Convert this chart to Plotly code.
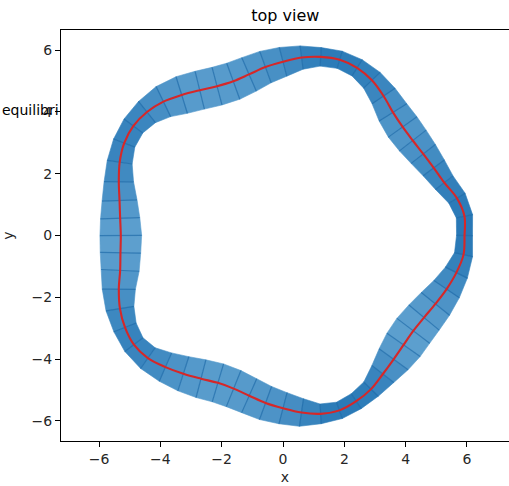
import numpy as np
import plotly.graph_objects as go

# Stations around the ring, every 6 degrees (polar angle of the centre line)
theta_deg = np.arange(0, 360, 6)

# Centre-line radius at each station
radius = [5.92, 5.95, 5.80, 5.53, 5.38, 5.28, 5.23, 5.25, 5.36, 5.58,
          5.80, 5.94, 5.98, 5.91, 5.79, 5.62, 5.48, 5.33, 5.25, 5.29,
          5.43, 5.62, 5.83, 5.97, 6.03, 5.98, 5.83, 5.63, 5.45, 5.34,
          5.29, 5.33, 5.43, 5.63, 5.82, 5.95, 6.01, 5.93, 5.73, 5.53,
          5.35, 5.22, 5.21, 5.30, 5.45, 5.59, 5.76, 5.90, 5.95, 5.87,
          5.74, 5.54, 5.39, 5.29, 5.25, 5.31, 5.44, 5.61, 5.78, 5.92]

# Projected half-width of the ribbon (seen from above) at each station
half_width = [0.26, 0.27, 0.31, 0.36, 0.43, 0.50, 0.55, 0.57, 0.53, 0.45,
              0.37, 0.31, 0.29, 0.30, 0.38, 0.48, 0.54, 0.59, 0.62, 0.63,
              0.63, 0.62, 0.54, 0.44, 0.38, 0.37, 0.41, 0.48, 0.57, 0.64,
              0.68, 0.66, 0.62, 0.54, 0.46, 0.39, 0.37, 0.41, 0.50, 0.58,
              0.63, 0.64, 0.63, 0.60, 0.57, 0.52, 0.45, 0.32, 0.28, 0.29,
              0.33, 0.45, 0.58, 0.66, 0.67, 0.64, 0.59, 0.50, 0.40, 0.30]

x_ticks = [-6, -4, -2, 0, 2, 4, 6]
y_ticks = [-6, -4, -2, 0, 2, 4, 6]

# ---- geometry: centre line, outward normals, ribbon edges ----
th = np.deg2rad(theta_deg)
r = np.asarray(radius)
w = np.asarray(half_width)
cx, cy = r * np.cos(th), r * np.sin(th)

tx = np.roll(cx, -1) - np.roll(cx, 1)
ty = np.roll(cy, -1) - np.roll(cy, 1)
tl = np.hypot(tx, ty)
nx, ny = ty / tl, -tx / tl  # outward for a counter-clockwise loop

ox, oy = cx + w * nx, cy + w * ny
ix, iy = cx - w * nx, cy - w * ny

fig = go.Figure()

# ribbon facets, shaded darker where the strip is seen nearly edge-on
light = np.array([94, 160, 207])
dark = np.array([40, 120, 182])
wmin, wmax = w.min(), w.max()
n = len(cx)
for k in range(n):
    j = (k + 1) % n
    wa = 0.5 * (w[k] + w[j])
    t = (wa - wmin) / (wmax - wmin)
    c = dark + t * (light - dark)
    col = f"rgb({c[0]:.0f},{c[1]:.0f},{c[2]:.0f})"
    fig.add_trace(go.Scatter(
        x=[ox[k], ox[j], ix[j], ix[k], ox[k]],
        y=[oy[k], oy[j], iy[j], iy[k], oy[k]],
        mode="lines", fill="toself", fillcolor=col,
        line=dict(color=col, width=0.6),
        hoverinfo="skip", showlegend=False))

# cross lines of the mesh
lx, ly = [], []
for k in range(n):
    lx += [ix[k], ox[k], None]
    ly += [iy[k], oy[k], None]
fig.add_trace(go.Scatter(x=lx, y=ly, mode="lines",
                         line=dict(color="rgba(28,105,168,0.7)", width=1.2),
                         hoverinfo="skip", showlegend=False))

# centre line
fig.add_trace(go.Scatter(x=np.append(cx, cx[0]), y=np.append(cy, cy[0]),
                         mode="lines", line=dict(color="#d62728", width=2.1, shape="spline"),
                         showlegend=False))

axis_font = dict(family="DejaVu Sans", size=14, color="#262626")
fig.update_layout(
    width=509, height=486,
    margin=dict(l=61, r=0, t=30, b=45),
    paper_bgcolor="white", plot_bgcolor="white",
    title=dict(text="top view", x=0.5605, xanchor="center", y=0.968, yanchor="middle",
               font=dict(family="DejaVu Sans", size=16, color="black")),
    font=axis_font,
)
fig.update_xaxes(range=[-7.24, 7.37], tickvals=x_ticks, ticks="outside", ticklen=5,
                 tickcolor="black", showline=True, linecolor="black", linewidth=1,
                 mirror=True, showgrid=False, zeroline=False,
                 title=dict(text="x", font=axis_font, standoff=6))
fig.update_yaxes(range=[-6.65, 6.65], tickvals=y_ticks, ticks="outside", ticklen=5,
                 tickcolor="black", showline=True, linecolor="black", linewidth=1,
                 mirror=False, showgrid=False, zeroline=False,
                 title=dict(text="y", font=axis_font, standoff=14))

fig.add_annotation(text="equilibri", xref="paper", yref="paper", x=-61 / 448, y=(441 - 110) / 411,
                   xanchor="left", yanchor="middle", showarrow=False,
                   font=dict(family="DejaVu Sans", size=14, color="black"))

fig.write_html("out.html")
